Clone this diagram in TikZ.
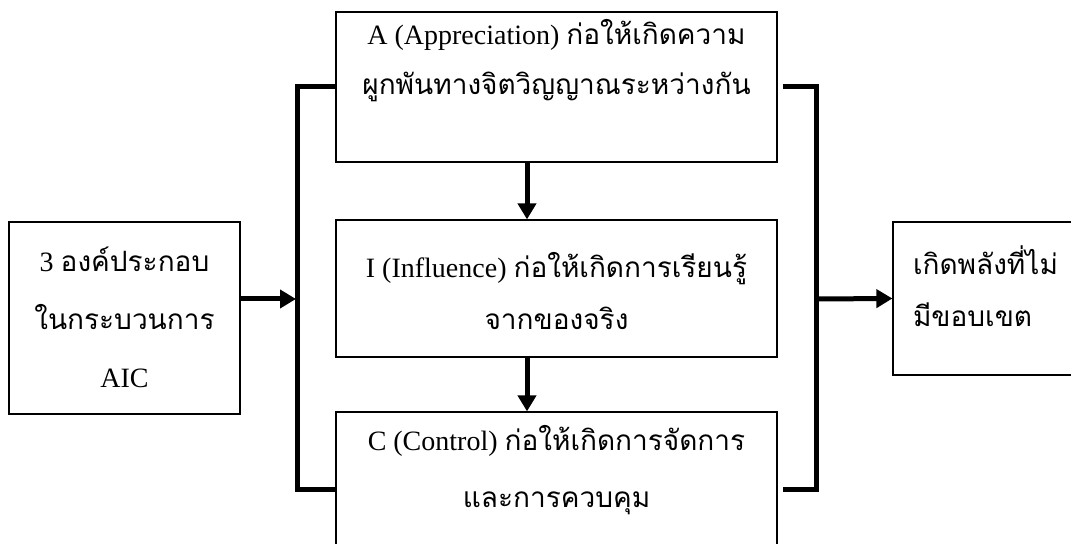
\documentclass[tikz,border=0pt]{standalone}
\usepackage{fontspec}
\setmainfont{Liberation Serif}
\newfontfamily\thaifont[Script=Thai]{Loma}
\usepackage{tikz}
\usetikzlibrary{arrows.meta,positioning,calc}

% box text: height, width, first baseline, line skip, text
\newcommand{\boxtext}[5]{\parbox[c][#1][t]{#2}{\baselineskip=#4\centering\rule{0pt}{#3}#5}}

\begin{document}
\begin{tikzpicture}[x=0.5pt, y=-0.5pt,
    every node/.style={draw, line width=0.6pt, inner sep=0pt, font=\fontsize{14pt}{26pt}\selectfont},
    arr/.style={line width=2.5pt, -{Triangle[length=8pt,width=9pt]}},
    bus/.style={line width=2.5pt}]

    \useasboundingbox (0,0) rectangle (1071,544);
    \clip (0,0) rectangle (1071,544);

    % Input
    \node (aic) at (124.5,318) {\boxtext{96pt}{115.5pt}{25pt}{29pt}{3 {\thaifont องค์ประกอบ}\\{\thaifont ในกระบวนการ}\\AIC}};

    % AIC steps
    \node (apprec) at (556.5,87) {\boxtext{75pt}{220.5pt}{16.5pt}{25pt}{A (Appreciation) {\thaifont ก่อให้เกิดความ}\\{\thaifont ผูกพันทางจิตวิญญาณระหว่างกัน}}};
    \node (infl) at (556.5,288.5) {\boxtext{68.5pt}{220.5pt}{29pt}{26pt}{I (Influence) {\thaifont ก่อให้เกิดการเรียนรู้}\\{\thaifont จากของจริง}}};
    \node (ctrl) at (556.5,490) {\boxtext{78pt}{220.5pt}{19.5pt}{28.5pt}{C (Control) {\thaifont ก่อให้เกิดการจัดการ}\\{\thaifont และการควบคุม}}};

    % Output
    \node (power) at (986.5,298.5) {\parbox[c][76.5pt][t]{93.5pt}{\raggedright\leftskip=10pt\rule{0pt}{26.5pt}{\thaifont เกิดพลังที่ไม่}\\{\thaifont มีขอบเขต}}};

    \coordinate (ljoin) at (296,299);
    \coordinate (rjoin) at (816,299);

    % Connections
    \draw[bus] (apprec.west) -- ++(-38,0) |- (ctrl.west);
    \draw[bus] ([xshift=2.5pt]apprec.east) -- ++(34,0) |- ([xshift=2.5pt]ctrl.east);

    \draw[arr] (aic.east |- ljoin) -- (ljoin);
    \draw[arr] (rjoin) -- (power.west);

    \draw[arr] ([xshift=-14.75pt]apprec.south) -- ([xshift=-14.75pt]infl.north);
    \draw[arr] ([xshift=-14.75pt]infl.south) -- ([xshift=-14.75pt]ctrl.north);

\end{tikzpicture}
\end{document}
